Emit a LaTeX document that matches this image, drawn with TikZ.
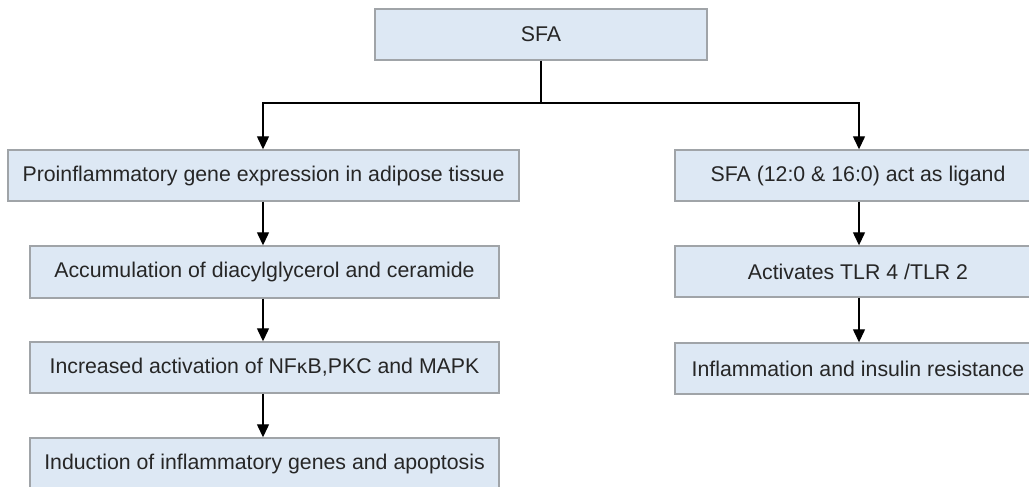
\documentclass[tikz,border=0pt]{standalone}
\usepackage{fontspec}
\setmainfont{Liberation Sans}
\newfontfamily\kappafont{DejaVu Sans}
\usetikzlibrary{arrows.meta}
\definecolor{boxfill}{HTML}{DDE8F4}
\definecolor{boxline}{HTML}{A0A4A8}
\definecolor{txt}{HTML}{262626}
\tikzset{
  flowbox/.style={draw=boxline, line width=1.4pt, fill=boxfill, text=txt,
    minimum height=51pt, inner sep=0pt, font=\fontsize{21.3}{25}\selectfont},
  arr/.style={draw=black, line width=1.3pt, -{Triangle[width=12pt,length=13pt]}},
  ln/.style={draw=black, line width=1.3pt}
}
\begin{document}
\begin{tikzpicture}[x=1pt,y=-1pt]
\useasboundingbox (0,0) rectangle (1029,487);
\clip (0,0) rectangle (1029,487);
\node[flowbox, minimum width=332pt] (sfa) at (541,34.5) {SFA};
\node[flowbox, minimum width=511pt] (l1) at (263.5,175.5) {Proinflammatory gene expression in adipose tissue};
\node[flowbox, minimum width=469pt, minimum height=52pt] (l2) at (264.5,272) {Accumulation of diacylglycerol and ceramide};
\node[flowbox, minimum width=469pt] (l3) at (264.5,367.5) {Increased activation of NF\kern-0.5pt{\kappafont\fontsize{19}{25}\selectfont κ}B,PKC and MAPK};
\node[flowbox, minimum width=469pt] (l4) at (264.5,463.5) {Induction of inflammatory genes and apoptosis};
\node[flowbox, minimum width=366pt] (r1) at (858,175.5) {SFA (12:0 \& 16:0) act as ligand};
\node[flowbox, minimum width=366pt] (r2) at (858,271.5) {Activates TLR 4 /TLR 2};
\node[flowbox, minimum width=366pt] (r3) at (858,368.5) {Inflammation and insulin resistance};
\coordinate (j) at (541,103);
\coordinate (lx) at (263,0);
\coordinate (rx) at (859,0);
\draw[ln] (sfa.south) -- (j);
\draw[arr] (j) -| (lx |- l1.north);
\draw[arr] (j) -| (rx |- r1.north);
\draw[arr] (lx |- l1.south) -- (lx |- l2.north);
\draw[arr] (lx |- l2.south) -- (lx |- l3.north);
\draw[arr] (lx |- l3.south) -- (lx |- l4.north);
\draw[arr] (rx |- r1.south) -- (rx |- r2.north);
\draw[arr] (rx |- r2.south) -- (rx |- r3.north);
\end{tikzpicture}
\end{document}
